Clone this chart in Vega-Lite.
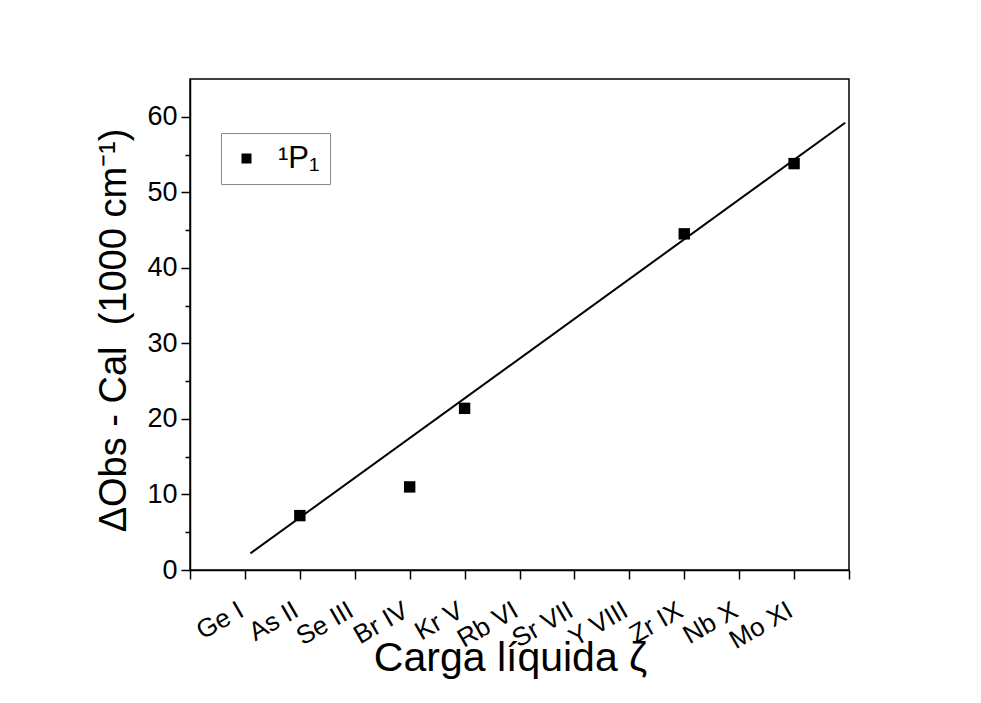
{
  "$schema": "https://vega.github.io/schema/vega-lite/v6.json",
  "width": 659,
  "height": 491,
  "autosize": {"type": "none"},
  "padding": {"left": 190, "top": 79, "right": 132, "bottom": 133},
  "background": "white",
  "config": {
    "font": "Liberation Sans",
    "view": {"stroke": "black", "strokeWidth": 1.5},
    "axis": {
      "domainColor": "black",
      "domainWidth": 1.5,
      "tickColor": "black",
      "tickWidth": 1.5,
      "labelColor": "black",
      "titleColor": "black",
      "labelFont": "Liberation Sans",
      "titleFont": "Liberation Sans",
      "titleFontWeight": "normal",
      "grid": false
    }
  },
  "datasets": {
    "measured": [
      {"ion": 2, "label": "As II", "delta": 7.2, "series": "¹P₁"},
      {"ion": 4, "label": "Br IV", "delta": 11.0, "series": "¹P₁"},
      {"ion": 5, "label": "Kr V", "delta": 21.4, "series": "¹P₁"},
      {"ion": 9, "label": "Zr IX", "delta": 44.5, "series": "¹P₁"},
      {"ion": 11, "label": "Mo XI", "delta": 53.8, "series": "¹P₁"}
    ],
    "fit": [
      {"ion": 1.1, "delta": 2.2},
      {"ion": 11.93, "delta": 59.2}
    ]
  },
  "layer": [
    {
      "data": {"name": "fit"},
      "mark": {"type": "line", "color": "black", "strokeWidth": 2},
      "encoding": {
        "x": {"field": "ion", "type": "quantitative"},
        "y": {"field": "delta", "type": "quantitative"}
      }
    },
    {
      "data": {"name": "measured"},
      "mark": {"type": "point", "shape": "square", "filled": true, "size": 130, "opacity": 1},
      "encoding": {
        "x": {
          "field": "ion",
          "type": "quantitative",
          "scale": {"domain": [0, 12], "nice": false, "zero": false},
          "axis": {
            "values": [0, 0.5, 1, 1.5, 2, 2.5, 3, 3.5, 4, 4.5, 5, 5.5, 6, 6.5, 7, 7.5, 8, 8.5, 9, 9.5, 10, 10.5, 11, 11.5, 12],
            "labelExpr": "datum.value == 1 ? 'Ge I' : datum.value == 2 ? 'As II' : datum.value == 3 ? 'Se III' : datum.value == 4 ? 'Br IV' : datum.value == 5 ? 'Kr V' : datum.value == 6 ? 'Rb VI' : datum.value == 7 ? 'Sr VII' : datum.value == 8 ? 'Y VIII' : datum.value == 9 ? 'Zr IX' : datum.value == 10 ? 'Nb X' : datum.value == 11 ? 'Mo XI' : ''",
            "tickSize": {"condition": {"test": "datum.value % 1 === 0", "value": 9}, "value": 5},
            "labelAngle": -30,
            "labelAlign": "right",
            "labelBaseline": "alphabetic",
            "labelPadding": 36,
            "labelFontSize": 26,
            "labelOverlap": false,
            "labelFlush": false,
            "title": "Carga líquida ζ",
            "titleFontSize": 41,
            "titleX": 320,
            "titleY": 100,
            "titleBaseline": "alphabetic"
          }
        },
        "y": {
          "field": "delta",
          "type": "quantitative",
          "scale": {"domain": [0, 65], "nice": false},
          "axis": {
            "values": [0, 5, 10, 15, 20, 25, 30, 35, 40, 45, 50, 55, 60],
            "labelExpr": "datum.value % 10 === 0 ? datum.label : ''",
            "tickSize": {"condition": {"test": "datum.value % 10 === 0", "value": 9}, "value": 5},
            "labelFontSize": 27,
            "labelPadding": 4,
            "title": "ΔObs - Cal\u00a0\u00a0(1000 cm⁻¹)",
            "titleFontSize": 38,
            "titleX": -65,
            "titleY": 251,
            "titleBaseline": "alphabetic"
          }
        },
        "color": {
          "field": "series",
          "type": "nominal",
          "scale": {"range": ["black"]},
          "legend": {
            "title": null,
            "orient": "none",
            "legendX": 31,
            "legendY": 54,
            "symbolType": "square",
            "symbolSize": 100,
            "symbolFillColor": "black",
            "labelFontSize": 31,
            "labelOffset": 16,
            "padding": 10,
            "strokeColor": "#888888"
          }
        }
      }
    }
  ]
}
